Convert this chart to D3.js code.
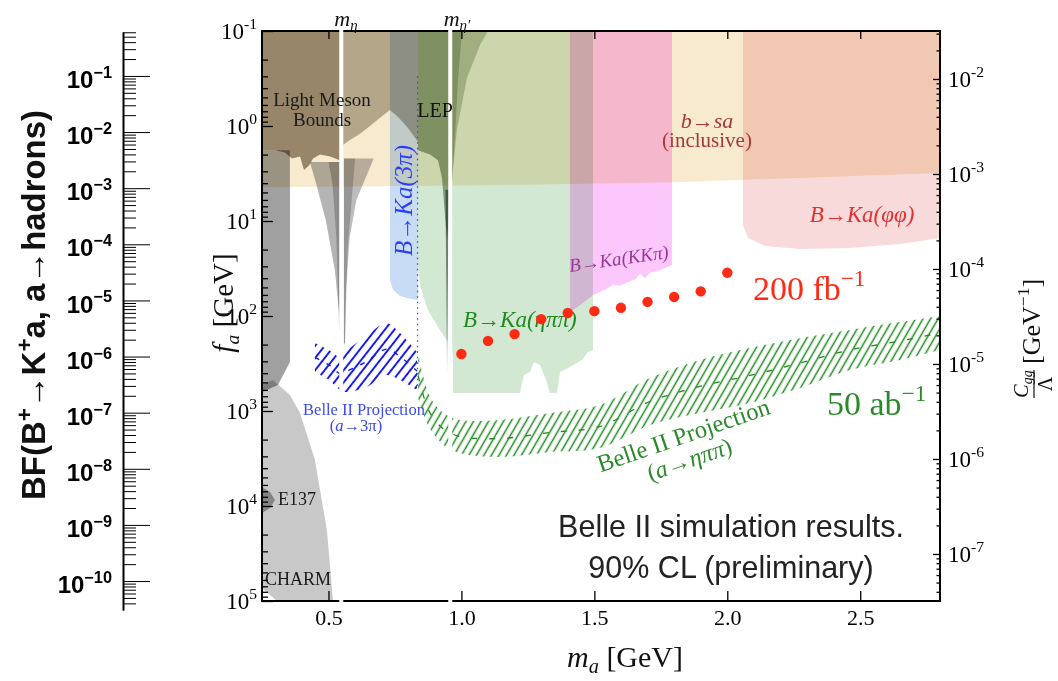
<!DOCTYPE html>
<html>
<head>
<meta charset="utf-8">
<script src="https://cdn.jsdelivr.net/npm/d3@7"></script>
<style>
  body { margin: 0; background: #fff; }
  svg { display: block; }
</style>
</head>
<body>
<div id="chart"></div>
<script>
// ---- axes ----
const massRange = [0.25, 2.8];
const faRange = [0.1, 1e5];
const cggRange = [Math.pow(10, -1.495), Math.pow(10, -7.495)];
const bfRange = [Math.pow(10, -0.217), Math.pow(10, -10.516)];
const massTicks = [0.5, 1.0, 1.5, 2.0, 2.5];
const mEta = 0.548, mEtaPrime = 0.958;

// ---- excluded regions, points are [m_a GeV, f_a GeV] ----
const bsaInclusive = [[0.25, 0.1], [2.8, 0.1], [2.8, 3.13], [1.8, 3.9], [1.1, 4.2], [0.25, 4.4]];
const phiPhi = [[2.059, 0.1], [2.8, 0.1], [2.8, 15.1], [2.649, 17.5], [2.46, 19.2], [2.273, 19.7],
  [2.142, 18.3], [2.078, 15.1], [2.059, 11]];
const kkPi = [[1.408, 0.1], [1.792, 0.1], [1.792, 29], [1.747, 33], [1.709, 35], [1.69, 40], [1.672, 36],
  [1.653, 41], [1.626, 44], [1.596, 48], [1.57, 47], [1.54, 53], [1.495, 60], [1.446, 77], [1.408, 91]];
const etaPiPi = [[0.837, 0.1], [1.495, 0.1], [1.495, 228], [1.476, 239], [1.453, 290], [1.427, 320],
  [1.401, 352], [1.371, 388], [1.359, 647], [1.333, 647], [1.318, 472], [1.296, 328], [1.273, 305],
  [1.258, 388], [1.235, 418], [1.22, 647], [0.968, 647], [0.968, 257], [0.957, 202], [0.919, 140],
  [0.874, 86.5], [0.844, 47.2], [0.837, 29]];
const threePi = [[0.731, 0.1], [0.837, 0.1], [0.837, 68], [0.807, 66], [0.769, 61.5], [0.743, 53], [0.731, 42]];
const lightMeson1 = [[0.25, 0.1], [0.543, 0.1], [0.543, 2.3], [0.506, 2.1], [0.468, 2.0], [0.442, 2.2],
  [0.427, 2.6], [0.408, 2.9], [0.393, 2.1], [0.363, 2.2], [0.336, 1.9], [0.299, 1.8], [0.25, 1.8]];
const lightMeson2 = [[0.555, 0.1], [0.837, 0.1], [0.837, 1.47], [0.799, 1.05], [0.761, 0.8], [0.731, 0.68],
  [0.694, 0.82], [0.656, 1.0], [0.619, 1.21], [0.581, 1.4], [0.555, 1.58]];
const beamDump = [[0.25, 1.8], [0.355, 1.8], [0.355, 305], [0.31, 532], [0.25, 631]];
const charm = [[0.25, 532], [0.291, 472], [0.355, 679], [0.393, 1050], [0.449, 3280], [0.494, 17900],
  [0.517, 1e5], [0.306, 1e5], [0.25, 72900]];
const e137 = [[0.25, 6310], [0.28, 7130], [0.299, 8650], [0.28, 10500], [0.25, 11900]];
const etaDipLeft = [[0.43, 2.4], [0.547, 2.4], [0.547, 93], [0.54, 93], [0.524, 33], [0.49, 9.8], [0.45, 3.7]];
const etaDipLeftCore = [[0.5, 2.4], [0.547, 2.4], [0.547, 140], [0.54, 140], [0.53, 15.8], [0.515, 4]];
const etaDipRight = [[0.558, 2.2], [0.67, 2.2], [0.64, 3.5], [0.605, 6.0], [0.58, 14.7], [0.566, 53], [0.562, 192], [0.558, 192]];
const etaDipRightCore = [[0.558, 2.2], [0.6, 2.2], [0.572, 20], [0.562, 200], [0.558, 200]];
const lepOuter = [[0.837, 0.1], [1.1, 0.1], [1.07, 0.14], [1.021, 0.31], [0.983, 1.1], [0.968, 2.9], [0.96, 6.0],
  [0.953, 8.6], [0.946, 15.8], [0.938, 8.6], [0.927, 3.5], [0.912, 2.3], [0.882, 2.0], [0.837, 1.8]];
const lepInner = [[0.837, 0.1], [1.002, 0.1], [0.987, 0.33], [0.976, 1.24], [0.968, 2.9], [0.96, 6.0],
  [0.953, 8.6], [0.946, 15.8], [0.938, 8.6], [0.927, 3.5], [0.912, 2.3], [0.882, 2.0], [0.837, 1.8]];
const etaPrimeDip = [[0.94, 4.7], [0.946, 390], [0.952, 4.7]];
const divider3pi = [[0.835, 0.3], [0.835, 550]];

// ---- Belle II projections ----
const proj3piMass = [0.449, 0.502, 0.543, 0.562, 0.637, 0.72, 0.769, 0.833];
const proj3piUpper = [192, 228, 270, 239, 166, 119, 151, 239];
const proj3piLower = [388, 472, 601, 631, 573, 418, 472, 601];
const projEtaMass = [0.837, 0.852, 0.874, 0.901, 0.938, 0.995, 1.145, 1.333, 1.521, 1.709, 1.897, 2.085, 2.273, 2.461, 2.649, 2.8];
const projEtaUpper = [245, 388, 631, 865, 1076, 1244, 1244, 1050, 865, 450, 290, 217, 171, 140, 116, 100];
const projEtaLower = [730, 976, 1403, 1834, 2335, 2770, 3050, 2700, 2450, 1403, 1050, 824, 573, 370, 290, 228];

// 200 fb^-1 sensitivity
const dotMass = [1.0, 1.1, 1.2, 1.3, 1.4, 1.5, 1.6, 1.7, 1.8, 1.9, 2.0];
const dotFa = [251, 183, 155, 108, 93, 89, 82, 71, 63, 55, 35];

const W = 1058, H = 681;
const plot = { left: 262, right: 940, top: 31, bottom: 601 };
const SERIF = '"Liberation Serif", "DejaVu Serif", serif';
const SANS = '"Liberation Sans", Arial, sans-serif';

const svg = d3.select("#chart").append("svg").attr("width", W).attr("height", H);

const x = d3.scaleLinear().domain(massRange).range([plot.left, plot.right]);
const y = d3.scaleLog().domain(faRange).range([plot.top, plot.bottom]);
const yC = d3.scaleLog().domain(cggRange).range([plot.top, plot.bottom]);
const yBF = d3.scaleLog().domain(bfRange).range([32, 610]);

const defs = svg.append("defs");
defs.append("clipPath").attr("id", "plotClip").append("rect")
  .attr("x", plot.left).attr("y", plot.top)
  .attr("width", plot.right - plot.left).attr("height", plot.bottom - plot.top);

function hatch(id, size, angle, color, width) {
  defs.append("pattern").attr("id", id)
    .attr("patternUnits", "userSpaceOnUse")
    .attr("width", size).attr("height", size)
    .attr("patternTransform", "rotate(" + angle + ")")
    .append("line")
    .attr("x1", size / 2).attr("y1", 0).attr("x2", size / 2).attr("y2", size)
    .attr("stroke", color).attr("stroke-width", width);
}
hatch("hatchBlue", 7.5, 38, "#1a1ae8", 2);
hatch("hatchGreen", 6.5, 30, "#1f8a1f", 1.5);

const line = d3.line().x(d => x(d[0])).y(d => y(d[1]));
const smooth = d3.line().x(d => x(d[0])).y(d => y(d[1])).curve(d3.curveCatmullRom);

const plotG = svg.append("g").attr("clip-path", "url(#plotClip)");
const regionG = plotG.append("g").style("isolation", "isolate");

const regions = [
  [bsaInclusive, "#f7eacf"],
  [phiPhi, "#f9dada"],
  [kkPi, "#fcc8fc"],
  [etaPiPi, "#d3e8d3"],
  [threePi, "#c9dcf6"],
  [beamDump, "#a0a0a0"],
  [charm, "#c8c8c8"],
  [e137, "#aaaaaa"],
  [etaDipLeft, "#b4b4b4"],
  [etaDipLeftCore, "#c8c8c8"],
  [etaDipRight, "#bcbcbc"],
  [etaDipRightCore, "#cccccc"],
  [lightMeson1, "#9c9281"],
  [lightMeson2, "#b9b5a9"],
  [lepOuter, "#c8d1bf"],
  [lepInner, "#cad4bf"],
  [etaPrimeDip, "#8c8c8c"]
];

regionG.selectAll("path.region")
  .data(regions)
  .enter().append("path")
  .attr("class", "region")
  .attr("d", d => line(d[0]) + "Z")
  .attr("fill", d => d[1])
  .style("mix-blend-mode", "multiply");

// projection bands
function band(ms, up, lo) {
  const upper = ms.map((m, i) => [m, up[i]]);
  const lower = ms.map((m, i) => [m, lo[i]]).reverse();
  return smooth(upper) + smooth(lower).replace(/^M/, "L") + "Z";
}
function center(ms, up, lo) {
  return ms.map((m, i) => [m, Math.sqrt(up[i] * lo[i])]);
}

plotG.append("path")
  .attr("d", band(proj3piMass, proj3piUpper, proj3piLower))
  .attr("fill", "url(#hatchBlue)");
plotG.append("path")
  .attr("d", smooth(center(proj3piMass, proj3piUpper, proj3piLower)))
  .attr("fill", "none").attr("stroke", "#1a1ae8").attr("stroke-width", 1.4)
  .attr("stroke-dasharray", "5 8");

plotG.append("path")
  .attr("d", band(projEtaMass, projEtaUpper, projEtaLower))
  .attr("fill", "url(#hatchGreen)");
plotG.append("path")
  .attr("d", smooth(center(projEtaMass, projEtaUpper, projEtaLower)))
  .attr("fill", "none").attr("stroke", "#1f8a1f").attr("stroke-width", 1.3)
  .attr("stroke-dasharray", "6 12");

plotG.append("path")
  .attr("d", line(divider3pi))
  .attr("stroke", "#3344ee").attr("stroke-width", 1.2)
  .attr("stroke-dasharray", "1.5 4");

// ---- axes ----
function isPow10(d) { const l = Math.log10(d); return Math.abs(l - Math.round(l)) < 1e-6; }
function powLabels(g, minus) {
  g.selectAll(".tick text").each(function (d) {
    const e = Math.round(Math.log10(d));
    const t = d3.select(this).text(null);
    t.append("tspan").text("10");
    t.append("tspan").attr("dy", "-0.62em").attr("font-size", "0.68em")
      .text((e < 0 ? minus : "") + Math.abs(e));
  });
}
function clean(g) { g.select(".domain").remove(); g.selectAll("line").attr("stroke-width", 1.3); }

const faTicks = y.ticks();
svg.append("g").attr("transform", `translate(${plot.left},0)`)
  .call(d3.axisLeft(y).tickValues(faTicks.filter(d => !isPow10(d))).tickSize(-6).tickFormat(() => ""))
  .call(clean);
const gFa = svg.append("g").attr("transform", `translate(${plot.left},0)`)
  .call(d3.axisLeft(y).tickValues(faTicks.filter(isPow10)).tickSize(-11).tickPadding(5))
  .call(clean)
  .attr("font-family", SERIF).attr("font-size", 23);
powLabels(gFa, "-");

const cTicks = yC.ticks();
svg.append("g").attr("transform", `translate(${plot.right},0)`)
  .call(d3.axisRight(yC).tickValues(cTicks.filter(d => !isPow10(d))).tickSize(-3.5).tickFormat(() => ""))
  .call(clean);
const gC = svg.append("g").attr("transform", `translate(${plot.right},0)`)
  .call(d3.axisRight(yC).tickValues(cTicks.filter(isPow10)).tickSize(-7).tickPadding(8))
  .call(clean)
  .attr("font-family", SERIF).attr("font-size", 23);
powLabels(gC, "-");

svg.append("g").attr("transform", `translate(0,${plot.bottom})`)
  .call(d3.axisBottom(x).tickValues(massTicks).tickSize(-10).tickPadding(8).tickFormat(d3.format(".1f")))
  .call(clean)
  .attr("font-family", SERIF).attr("font-size", 22);
svg.append("g").attr("transform", `translate(0,${plot.top})`)
  .call(d3.axisTop(x).tickValues(massTicks).tickSize(-8).tickFormat(() => ""))
  .call(clean);

svg.append("rect")
  .attr("x", plot.left).attr("y", plot.top)
  .attr("width", plot.right - plot.left).attr("height", plot.bottom - plot.top)
  .attr("fill", "none").attr("stroke", "#000").attr("stroke-width", 2);

// white lines at the eta and eta' masses
svg.selectAll("line.meson")
  .data([mEta, mEtaPrime])
  .enter().append("line")
  .attr("class", "meson")
  .attr("x1", d => x(d)).attr("x2", d => x(d))
  .attr("y1", plot.top - 2).attr("y2", plot.bottom + 2)
  .attr("stroke", "#fff").attr("stroke-width", 4);

// BF axis on the far left
const bfTicks = yBF.ticks(40);
const gBF = svg.append("g").attr("transform", "translate(123,0)");
gBF.append("g")
  .call(d3.axisRight(yBF).tickValues(bfTicks.filter(d => !isPow10(d))).tickSize(13).tickSizeOuter(0).tickFormat(() => ""));
gBF.append("g")
  .call(d3.axisRight(yBF).tickValues(bfTicks.filter(isPow10)).tickSize(27).tickSizeOuter(0).tickFormat(() => ""));
gBF.selectAll("path.domain").attr("stroke-width", 1.6);
const gBFLab = svg.append("g").attr("transform", "translate(123,4)")
  .call(d3.axisLeft(yBF).tickValues(bfTicks.filter(isPow10)).tickSize(0).tickPadding(11))
  .call(g => g.select(".domain").remove())
  .attr("font-family", SANS).attr("font-size", 24).attr("font-weight", "bold");
powLabels(gBFLab, "\u2212");

// ---- text ----
function txt(xp, yp, str, opts) {
  const o = Object.assign({ size: 18, font: SERIF, anchor: "middle", color: "#1a1a1a", italic: false, rotate: 0 }, opts || {});
  return svg.append("text")
    .attr("transform", `translate(${xp},${yp}) rotate(${o.rotate})`)
    .attr("text-anchor", o.anchor)
    .attr("font-family", o.font).attr("font-size", o.size)
    .attr("font-style", o.italic ? "italic" : "normal")
    .attr("font-weight", o.bold ? "bold" : "normal")
    .attr("fill", o.color)
    .text(str);
}
function supScript(t, s, sub) {
  t.append("tspan").attr("dy", sub ? "0.28em" : "-0.6em").attr("font-size", "0.68em").text(s);
}

txt(322, 106, "Light Meson", { size: 19 });
txt(322, 126, "Bounds", { size: 19 });
txt(435, 117, "LEP", { size: 20, color: "#111" });
txt(707, 128, "b\u2192sa", { size: 22, italic: true, color: "#a83838" });
txt(707, 147, "(inclusive)", { size: 21, color: "#a83838" });
txt(862, 222, "B\u2192Ka(\u03c6\u03c6)", { size: 23, italic: true, color: "#e43030" });
txt(412, 256, "B\u2192Ka(3\u03c0)", { size: 25, italic: true, color: "#2a3ff0", anchor: "start", rotate: -90 });
txt(570, 272, "B\u2192Ka(KK\u03c0)", { size: 19, italic: true, color: "#9a359a", anchor: "start", rotate: -8 });
txt(463, 327, "B\u2192Ka(\u03b7\u03c0\u03c0)", { size: 23, italic: true, color: "#208a20", anchor: "start" });

// 200 fb^-1 points sit on top of the labels
svg.append("g").attr("clip-path", "url(#plotClip)")
  .selectAll("circle.dot")
  .data(dotMass.map((m, i) => [m, dotFa[i]]))
  .enter().append("circle")
  .attr("class", "dot")
  .attr("cx", d => x(d[0])).attr("cy", d => y(d[1]))
  .attr("r", 5.2).attr("fill", "#ff2a14");

const t200 = txt(753, 300, "200 fb", { size: 34, color: "#ff2a14", anchor: "start" });
supScript(t200, "\u22121");
const t50 = txt(827, 415, "50 ab", { size: 34, color: "#2a8a2a", anchor: "start" });
supScript(t50, "\u22121");

txt(364, 415, "Belle II Projection", { size: 16.5, color: "#3a4af0" });
const t3pi = txt(356, 431, "(", { size: 16.5, color: "#3a4af0" });
t3pi.append("tspan").attr("font-style", "italic").text("a");
t3pi.append("tspan").text("\u21923\u03c0)");
txt(686, 443, "Belle II Projection", { size: 24.5, color: "#2a8a2a", rotate: -19 });
const tEta = txt(692, 467, "(", { size: 24, color: "#2a8a2a", rotate: -19 });
tEta.append("tspan").attr("font-style", "italic").text("a\u2192\u03b7\u03c0\u03c0");
tEta.append("tspan").text(")");

txt(731, 537, "Belle II simulation results.", { size: 30.5, font: SANS, color: "#222" });
txt(731, 578, "90% CL (preliminary)", { size: 30.5, font: SANS, color: "#222" });
txt(278, 505, "E137", { size: 18, anchor: "start" });
txt(265, 585, "CHARM", { size: 18, anchor: "start" });

const tEtaM = txt(346, 26, "m", { size: 22, italic: true, color: "#111" });
supScript(tEtaM, "\u03b7", true);
const tEtaP = txt(457, 26, "m", { size: 22, italic: true, color: "#111" });
supScript(tEtaP, "\u03b7\u2032", true);

// axis titles
const tx = txt(567, 667, "m", { size: 30, italic: true, anchor: "start", color: "#111" });
supScript(tx, "a", true);
tx.append("tspan").attr("dy", "-0.19em").attr("font-style", "normal").text(" [GeV]");

const tfa = txt(233, 303, "f", { size: 29, italic: true, rotate: -90, color: "#111" });
supScript(tfa, "a", true);
tfa.append("tspan").attr("dy", "-0.19em").attr("font-style", "normal").text(" [GeV]");

const gTitleC = svg.append("g").attr("transform", "translate(1034,322) rotate(-90)")
  .attr("font-family", SERIF).attr("fill", "#111");
const tcg = gTitleC.append("text").attr("x", -62).attr("y", -6).attr("text-anchor", "middle")
  .attr("font-size", 20).attr("font-style", "italic").text("C");
tcg.append("tspan").attr("dy", "0.25em").attr("font-size", "0.7em").text("gg");
gTitleC.append("line").attr("x1", -76).attr("x2", -48).attr("y1", 0).attr("y2", 0)
  .attr("stroke", "#111").attr("stroke-width", 1.2);
gTitleC.append("text").attr("x", -62).attr("y", 18).attr("text-anchor", "middle")
  .attr("font-size", 20).text("\u039b");
const tGeV = gTitleC.append("text").attr("x", -42).attr("y", 6).attr("font-size", 26).text("[GeV");
supScript(tGeV, "\u22121");
tGeV.append("tspan").attr("dy", "0.41em").text("]");

// BF title
const tBF = txt(45, 305, "BF(B", { size: 27, font: SANS, bold: true, rotate: -90, color: "#111" });
supScript(tBF, "+");
tBF.append("tspan").attr("dy", "0.41em").text("\u2192K");
supScript(tBF, "+");
tBF.append("tspan").attr("dy", "0.41em").text("a, a\u2192hadrons)");
const bfLen = tBF.node().getComputedTextLength();
tBF.attr("font-size", 27 * 390 / bfLen);
</script>
</body>
</html>
